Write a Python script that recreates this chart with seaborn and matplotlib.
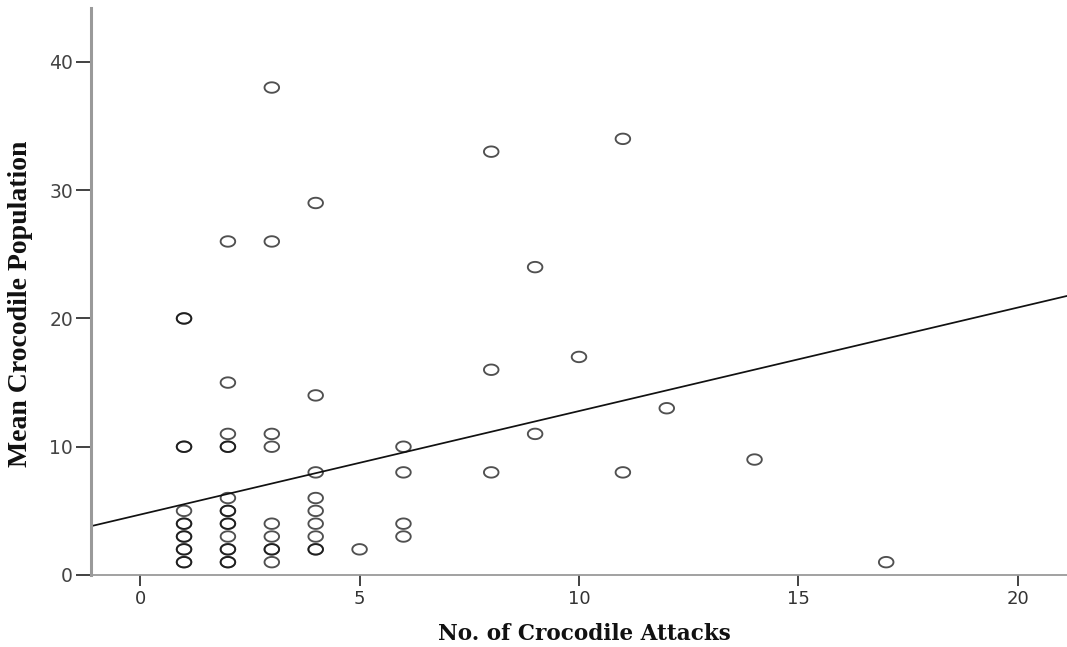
import numpy as np
import pandas as pd
import seaborn as sns
import matplotlib.pyplot as plt
from matplotlib.path import Path

# ---- data ----
attacks = [1, 1, 1, 1, 1, 1, 1, 1, 1, 1, 1, 1, 1,
           2, 2, 2, 2, 2, 2, 2, 2, 2, 2, 2, 2, 2, 2, 2,
           3, 3, 3, 3, 3, 3, 3, 3, 3,
           4, 4, 4, 4, 4, 4, 4, 4, 4,
           5,
           6, 6, 6, 6,
           8, 8, 8,
           9, 9,
           10,
           11, 11,
           12,
           14,
           17]
population = [1, 1, 2, 2, 3, 3, 4, 4, 5, 10, 10, 20, 20,
              1, 1, 2, 2, 3, 4, 4, 5, 5, 6, 10, 10, 11, 15, 26,
              1, 2, 2, 3, 4, 10, 11, 26, 38,
              2, 2, 3, 4, 5, 6, 8, 14, 29,
              2,
              3, 4, 8, 10,
              8, 16, 33,
              11, 24,
              17,
              8, 34,
              13,
              9,
              1]
fit_intercept = 4.71
fit_slope = 0.807
x_ticks = [0, 5, 10, 15, 20]
y_ticks = [0, 10, 20, 30, 40]
x_label = "No. of Crocodile Attacks"
y_label = "Mean Crocodile Population"

df = pd.DataFrame({"attacks": attacks, "population": population})

sns.set_theme(style="ticks")
plt.rcParams["font.family"] = ["DejaVu Sans"]

W, H = 1067, 647
fig = plt.figure(figsize=(W / 100, H / 100), dpi=100)
ax = fig.add_axes([91 / W, 1 - 575 / H, 1 - 91 / W, (575 - 8) / H])

# ellipse marker (reference circles are stretched horizontally)
t = np.linspace(0, 2 * np.pi, 73)
ell = Path(np.column_stack([np.cos(t), 0.72 * np.sin(t)]), closed=True)

sns.scatterplot(data=df, x="attacks", y="population", marker=ell, s=110,
                linewidth=1.35, ax=ax, zorder=3)
coll = ax.collections[-1]
coll.set_facecolor("none")
coll.set_edgecolor((0.05, 0.05, 0.05, 0.72))
coll.set_linewidth(1.35)

ax.set_xlim(-1.12, 21.12)
ax.set_ylim(0, 44.2)

fit_x = np.array(ax.get_xlim())
fit_y = fit_intercept + fit_slope * fit_x
sns.lineplot(x=fit_x, y=fit_y, color="#111111", linewidth=1.25, ax=ax, zorder=2)
ax.set_xlim(-1.12, 21.12)

ax.set_xticks(x_ticks)
ax.set_yticks(y_ticks)
ax.set_xticklabels([str(v) for v in x_ticks])
ax.set_yticklabels([str(v) for v in y_ticks])

ax.tick_params(axis="x", direction="out", length=8, width=1.3, color="#333333",
               labelsize=13, labelcolor="#333333", pad=3, bottom=True)
ax.tick_params(axis="y", direction="out", length=11, width=1.3, color="#333333",
               labelsize=13.5, labelcolor="#444444", pad=2, left=True)

sns.despine(ax=ax)
ax.spines["left"].set_color("#9a9a9a")
ax.spines["left"].set_linewidth(2.2)
ax.spines["bottom"].set_color("#9a9a9a")
ax.spines["bottom"].set_linewidth(1.3)

ax.set_xlabel(x_label, family="DejaVu Serif", fontweight="bold", fontsize=15.5,
              color="#111111", va="center", ha="center")
ax.set_ylabel(y_label, family="Liberation Serif", fontweight="bold", fontsize=20,
              color="#111111", va="center", ha="center")
ax.xaxis.set_label_coords((584 - 91) / 976, (575 - 634) / 567)
ax.yaxis.set_label_coords((21 - 91) / 976, (575 - 304) / 567)

fig.savefig("out.png", dpi=100)
